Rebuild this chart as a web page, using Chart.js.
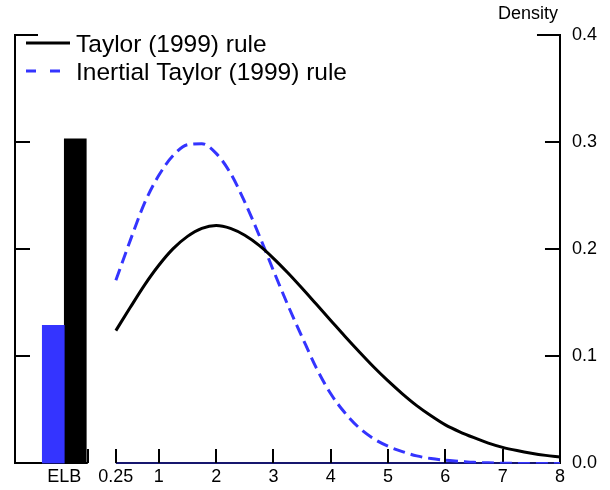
<!DOCTYPE html>
<html><head><meta charset="utf-8">
<script src="https://cdn.jsdelivr.net/npm/chart.js@4.4.0/dist/chart.umd.min.js"></script>
<style>html,body{margin:0;padding:0;background:#fff;}#wrap{width:610px;height:490px;}</style>
</head><body><div id="wrap"><canvas id="c" width="610" height="490"></canvas></div>
<script>
// ---- data ----
const seriesNames = ['Taylor (1999) rule', 'Inertial Taylor (1999) rule'];
const barCategories = ['ELB'];
const elbTaylor = [0.303];
const elbInertial = [0.129];
const rateGrid = [0.25,0.5,0.75,1,1.25,1.5,1.75,2,2.25,2.5,2.75,3,3.25,3.5,3.75,4,4.25,4.5,4.75,5,5.25,5.5,5.75,6,6.25,6.5,6.75,7,7.25,7.5,7.75,8];
const densityTaylor = [0.124,0.1455,0.1665,0.185,0.2005,0.212,0.2195,0.2222,0.2195,0.213,0.2035,0.1915,0.178,0.1635,0.1485,0.1335,0.1185,0.104,0.090,0.077,0.065,0.054,0.0445,0.036,0.0295,0.024,0.019,0.015,0.012,0.0095,0.0075,0.006];
const densityInertial = [0.171,0.208,0.243,0.269,0.2875,0.2975,0.2985,0.2895,0.271,0.244,0.213,0.180,0.148,0.118,0.089,0.065,0.047,0.033,0.023,0.016,0.011,0.007,0.0045,0.003,0.002,0.001,0.0005,0.0002,0,0,0,0];
const elbPosition = -0.65;
const xTickValues = [elbPosition,0.25,1,2,3,4,5,6,7,8];
const xTickLabels = ['ELB','0.25','1','2','3','4','5','6','7','8'];
const yTickValues = [0,0.1,0.2,0.3,0.4];
const yTickLabels = ['0.0','0.1','0.2','0.3','0.4'];
const xMin = -1.51, xMax = 8;
const elbSegmentEnd = -0.24, curveStart = 0.25;

const BLUE = '#3434ff';
const FONT = '"Liberation Sans", Arial, Helvetica, sans-serif';
Chart.defaults.font.family = FONT;
Chart.defaults.color = '#000';

const overlay = {
  id: 'overlay',
  beforeDatasetsDraw(chart) {
    const ctx = chart.ctx, a = chart.chartArea;
    const xs = chart.scales.x, yR = chart.scales.y, yL = chart.scales.yL;
    ctx.save();
    ctx.lineWidth = 2; ctx.lineCap = 'butt';
    const yb = Math.round(a.bottom);
    // bottom axis: left segment (ELB) and right segment (rates)
    ctx.strokeStyle = '#000';
    ctx.beginPath();
    ctx.moveTo(a.left - 1, yb); ctx.lineTo(xs.getPixelForValue(elbSegmentEnd), yb);
    ctx.stroke();
    ctx.strokeStyle = '#16166e';
    ctx.beginPath();
    ctx.moveTo(xs.getPixelForValue(curveStart), yb); ctx.lineTo(a.right, yb);
    ctx.stroke();
    ctx.strokeStyle = '#000';
    ctx.beginPath();
    // x ticks (inward)
    const xt = xs.ticks.map(t => t.value).filter(v => v >= curveStart);
    xt.push(elbSegmentEnd);
    xt.forEach(v => { const p = Math.round(xs.getPixelForValue(v)); ctx.moveTo(p, yb); ctx.lineTo(p, yb - 14); });
    // y ticks (inward)
    yL.ticks.forEach(t => { if (t.value <= 0) return; const p = Math.round(yL.getPixelForValue(t.value)); const len = t.value >= yL.max ? 23 : 15; ctx.moveTo(a.left, p); ctx.lineTo(a.left + len, p); });
    yR.ticks.forEach(t => { if (t.value <= 0) return; const p = Math.round(yR.getPixelForValue(t.value)); const len = t.value >= yR.max ? 23 : 15; ctx.moveTo(a.right, p); ctx.lineTo(a.right - len, p); });
    ctx.stroke();
    ctx.restore();
  },
  afterDatasetsDraw(chart) {
    const ctx = chart.ctx, a = chart.chartArea;
    ctx.save();
    // legend
    let row = 0;
    chart.data.datasets.forEach(ds => {
      if (ds.type !== 'line') return;
      const y = 43 + row * 28;
      ctx.strokeStyle = ds.borderColor; ctx.lineWidth = ds.borderWidth;
      ctx.setLineDash(ds.legendDash || []);
      ctx.beginPath(); ctx.moveTo(26, y); ctx.lineTo(70, y); ctx.stroke();
      ctx.setLineDash([]);
      ctx.fillStyle = '#000'; ctx.font = '24.5px ' + FONT; ctx.textAlign = 'left'; ctx.textBaseline = 'alphabetic';
      ctx.fillText(ds.label, 76, y + 8.5);
      row++;
    });
    // axis title
    ctx.font = '18px ' + FONT; ctx.textAlign = 'right'; ctx.textBaseline = 'alphabetic'; ctx.fillStyle = '#000';
    ctx.fillText('Density', a.right - 2, 19);
    ctx.restore();
  }
};

new Chart(document.getElementById('c'), {
  type: 'line',
  data: {
    datasets: [
      { type: 'bar', label: barCategories[0] + ' ' + seriesNames[1], data: barCategories.map((c, i) => ({x: elbPosition, y: elbInertial[i]})), backgroundColor: BLUE, borderWidth: 0, barThickness: 22, yAxisID: 'y' },
      { type: 'bar', label: barCategories[0] + ' ' + seriesNames[0], data: barCategories.map((c, i) => ({x: elbPosition, y: elbTaylor[i]})), backgroundColor: '#000', borderWidth: 0, barThickness: 22, yAxisID: 'y' },
      { type: 'line', label: seriesNames[0], data: rateGrid.map((x, i) => ({x, y: densityTaylor[i]})), borderColor: '#000', borderWidth: 3, pointRadius: 0, fill: false, cubicInterpolationMode: 'monotone', yAxisID: 'y' },
      { type: 'line', label: seriesNames[1], data: rateGrid.map((x, i) => ({x, y: densityInertial[i]})), borderColor: BLUE, borderWidth: 3, borderDash: [12, 6], legendDash: [10, 14], pointRadius: 0, fill: false, cubicInterpolationMode: 'monotone', yAxisID: 'y' }
    ]
  },
  options: {
    responsive: false, animation: false, devicePixelRatio: 1,
    layout: { padding: { left: 15, right: 1, top: 35, bottom: -1 } },
    plugins: { legend: { display: false }, tooltip: { enabled: false }, title: { display: false } },
    scales: {
      x: {
        type: 'linear', min: xMin, max: xMax, offset: false,
        afterBuildTicks: s => { s.ticks = xTickValues.map(v => ({value: v})); },
        ticks: { autoSkip: false, maxRotation: 0, minRotation: 0, padding: 3, font: { size: 18 }, color: '#000', callback: (v, i) => xTickLabels[i] },
        grid: { display: false, drawTicks: false, offset: false }, border: { display: false }
      },
      y: {
        position: 'right', min: 0, max: 0.4,
        afterBuildTicks: s => { s.ticks = yTickValues.map(v => ({value: v})); },
        ticks: { padding: 12, font: { size: 18 }, color: '#000', callback: (v, i) => yTickLabels[i] },
        grid: { display: false, drawTicks: false }, border: { display: true, color: '#000', width: 2 }
      },
      yL: {
        position: 'left', min: 0, max: 0.4,
        afterBuildTicks: s => { s.ticks = yTickValues.map(v => ({value: v})); },
        ticks: { display: false },
        grid: { display: false, drawTicks: false }, border: { display: true, color: '#000', width: 2 }
      }
    }
  },
  plugins: [overlay]
});
</script>
</body></html>
